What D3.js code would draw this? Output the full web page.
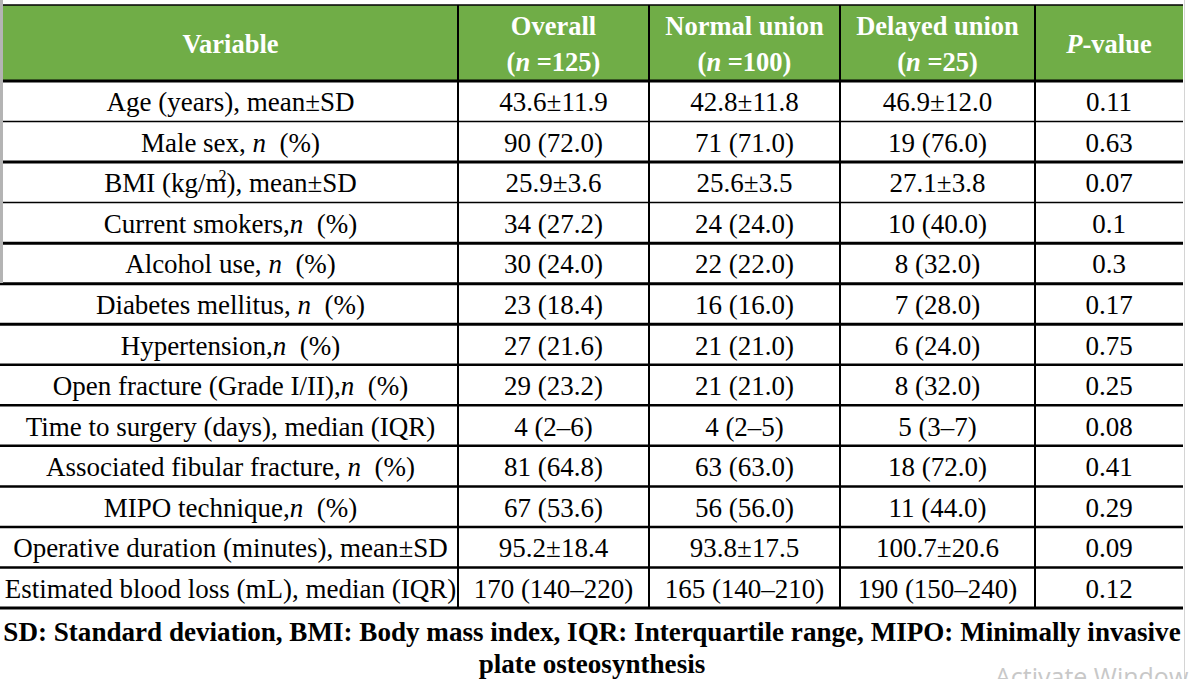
<!DOCTYPE html>
<html>
<head>
<meta charset="utf-8">
<script src="https://cdn.jsdelivr.net/npm/d3@7/dist/d3.min.js"></script>
<style>
    body { margin: 0; background: #fff; }
    text { font-family: "Liberation Serif", "Times New Roman", serif; white-space: pre; }
</style>
</head>
<body>
<div id="table"></div>
<script>
// table content (*x* = italic, ^x^ = superscript)
let columns = ["variable", "overall", "normal", "delayed", "p"];

let headers = [
    ["Variable"],
    ["Overall", "(*n* =125)"],
    ["Normal union", "(*n* =100)"],
    ["Delayed union", "(*n* =25)"],
    ["*P*-value"]
];

let variables = [
    "Age (years), mean±SD",
    "Male sex, *n*  (%)",
    "BMI (kg/m^2^), mean±SD",
    "Current smokers,*n*  (%)",
    "Alcohol use, *n*  (%)",
    "Diabetes mellitus, *n*  (%)",
    "Hypertension,*n*  (%)",
    "Open fracture (Grade I/II),*n*  (%)",
    "Time to surgery (days), median (IQR)",
    "Associated fibular fracture, *n*  (%)",
    "MIPO technique,*n*  (%)",
    "Operative duration (minutes), mean±SD",
    "Estimated blood loss (mL), median (IQR)"
];

let overall = ["43.6±11.9", "90 (72.0)", "25.9±3.6", "34 (27.2)", "30 (24.0)", "23 (18.4)",
    "27 (21.6)", "29 (23.2)", "4 (2–6)", "81 (64.8)", "67 (53.6)", "95.2±18.4", "170 (140–220)"];

let normalUnion = ["42.8±11.8", "71 (71.0)", "25.6±3.5", "24 (24.0)", "22 (22.0)", "16 (16.0)",
    "21 (21.0)", "21 (21.0)", "4 (2–5)", "63 (63.0)", "56 (56.0)", "93.8±17.5", "165 (140–210)"];

let delayedUnion = ["46.9±12.0", "19 (76.0)", "27.1±3.8", "10 (40.0)", "8 (32.0)", "7 (28.0)",
    "6 (24.0)", "8 (32.0)", "5 (3–7)", "18 (72.0)", "11 (44.0)", "100.7±20.6", "190 (150–240)"];

let pValues = ["0.11", "0.63", "0.07", "0.1", "0.3", "0.17", "0.75", "0.25", "0.08", "0.41",
    "0.29", "0.09", "0.12"];

let footnote = [
    "SD: Standard deviation, BMI: Body mass index, IQR: Interquartile range, MIPO: Minimally invasive",
    "plate osteosynthesis"
];

// rule weights under each body row
let ruleWidth = [1.5, 3, 1.5, 3, 3, 3, 2.5, 2.5, 2.5, 2.5, 2.5, 2.5, 3];

let width = 1189;
let height = 679;
let tableTop = 5;
let headBottom = 81;
let tableBottom = 608;
let tableRight = 1183;

let svg = d3.select("#table")
    .append("svg")
    .attr("width", width)
    .attr("height", height);

// columns
let colLeft = d3.scaleOrdinal()
    .domain(columns)
    .range([3, 458, 649, 840, 1035]);
let colRight = d3.scaleOrdinal()
    .domain(columns)
    .range([458, 649, 840, 1035, tableRight]);
let colMid = function (c) {
    return (colLeft(c) + colRight(c)) / 2;
};

// rows
let y = d3.scaleBand()
    .domain(d3.range(variables.length))
    .range([headBottom, tableBottom]);

let body = variables.map(function (v, i) {
    return [v, overall[i], normalUnion[i], delayedUnion[i], pValues[i]];
});

// write a string with *italic* and ^sup^ parts into a text element
function richText(sel, str) {
    let parts = str.split(/(\*[^*]+\*|\^[^^]+\^)/).filter(function (s) { return s.length; });
    let raised = false;
    parts.forEach(function (p) {
        let t = sel.append("tspan");
        if (p[0] === "*") {
            t.text(p.slice(1, -1)).style("font-style", "italic");
            if (raised) { t.attr("dy", 11); raised = false; }
        } else if (p[0] === "^") {
            t.text(p.slice(1, -1))
                .attr("font-size", 16)
                .attr("dx", -8)
                .attr("dy", -11);
            raised = true;
        } else {
            t.text(p);
            if (raised) { t.attr("dy", 11); raised = false; }
        }
    });
}

// header band
svg.append("rect")
    .attr("x", 3)
    .attr("y", tableTop)
    .attr("width", tableRight - 3)
    .attr("height", headBottom - tableTop)
    .attr("fill", "#70ad47");

svg.append("line")
    .attr("x1", 3).attr("x2", tableRight)
    .attr("y1", tableTop).attr("y2", tableTop)
    .attr("stroke", "#000")
    .attr("stroke-width", 1.5);

headers.forEach(function (lines, ci) {
    let c = columns[ci];
    let base = lines.length === 1 ? [53] : [35, 71];
    lines.forEach(function (line, li) {
        let t = svg.append("text")
            .attr("x", colMid(c))
            .attr("y", base[li])
            .attr("text-anchor", "middle")
            .attr("font-size", 26.5)
            .attr("font-weight", "bold")
            .attr("fill", "#fff");
        richText(t, line);
    });
});

// body cells
body.forEach(function (row, ri) {
    row.forEach(function (cell, ci) {
        let t = svg.append("text")
            .attr("x", colMid(columns[ci]))
            .attr("y", y(ri) + y.bandwidth() / 2 + 10)
            .attr("text-anchor", "middle")
            .attr("font-size", 27)
            .attr("fill", "#000");
        richText(t, cell);
    });
});

// horizontal rules
svg.append("line")
    .attr("x1", 3).attr("x2", tableRight)
    .attr("y1", headBottom).attr("y2", headBottom)
    .attr("stroke", "#000")
    .attr("stroke-width", 3);

svg.selectAll(".rule")
    .data(d3.range(variables.length))
    .enter()
    .append("line")
    .attr("class", "rule")
    .attr("x1", 0)
    .attr("x2", tableRight)
    .attr("y1", function (d) { return y(d) + y.bandwidth(); })
    .attr("y2", function (d) { return y(d) + y.bandwidth(); })
    .attr("stroke", "#000")
    .attr("stroke-width", function (d) { return ruleWidth[d]; });

// vertical rules
svg.selectAll(".vrule")
    .data(columns.slice(1))
    .enter()
    .append("line")
    .attr("class", "vrule")
    .attr("x1", function (d) { return colLeft(d); })
    .attr("x2", function (d) { return colLeft(d); })
    .attr("y1", tableTop)
    .attr("y2", tableBottom)
    .attr("stroke", "#000")
    .attr("stroke-width", 2);

// light page edges
svg.append("rect")
    .attr("x", 0).attr("y", 0)
    .attr("width", 3).attr("height", 283)
    .attr("fill", "#b4b4b4");

svg.append("line")
    .attr("x1", 1184.5).attr("x2", 1184.5)
    .attr("y1", 0).attr("y2", height)
    .attr("stroke", "#d4d4d4")
    .attr("stroke-width", 1);

// footnote
svg.selectAll(".foot")
    .data(footnote)
    .enter()
    .append("text")
    .attr("class", "foot")
    .attr("x", 592)
    .attr("y", function (d, i) { return i === 0 ? 641 : 673; })
    .attr("text-anchor", "middle")
    .attr("font-size", 27.1)
    .attr("font-weight", "bold")
    .attr("fill", "#000")
    .text(function (d) { return d; });

// screen watermark
svg.append("text")
    .attr("x", 995)
    .attr("y", 686)
    .attr("font-size", 25)
    .attr("fill", "#c8c8c8")
    .style("font-family", "'Open Sans', 'Noto Sans', sans-serif")
    .text("Activate Windows");
</script>
</body>
</html>
